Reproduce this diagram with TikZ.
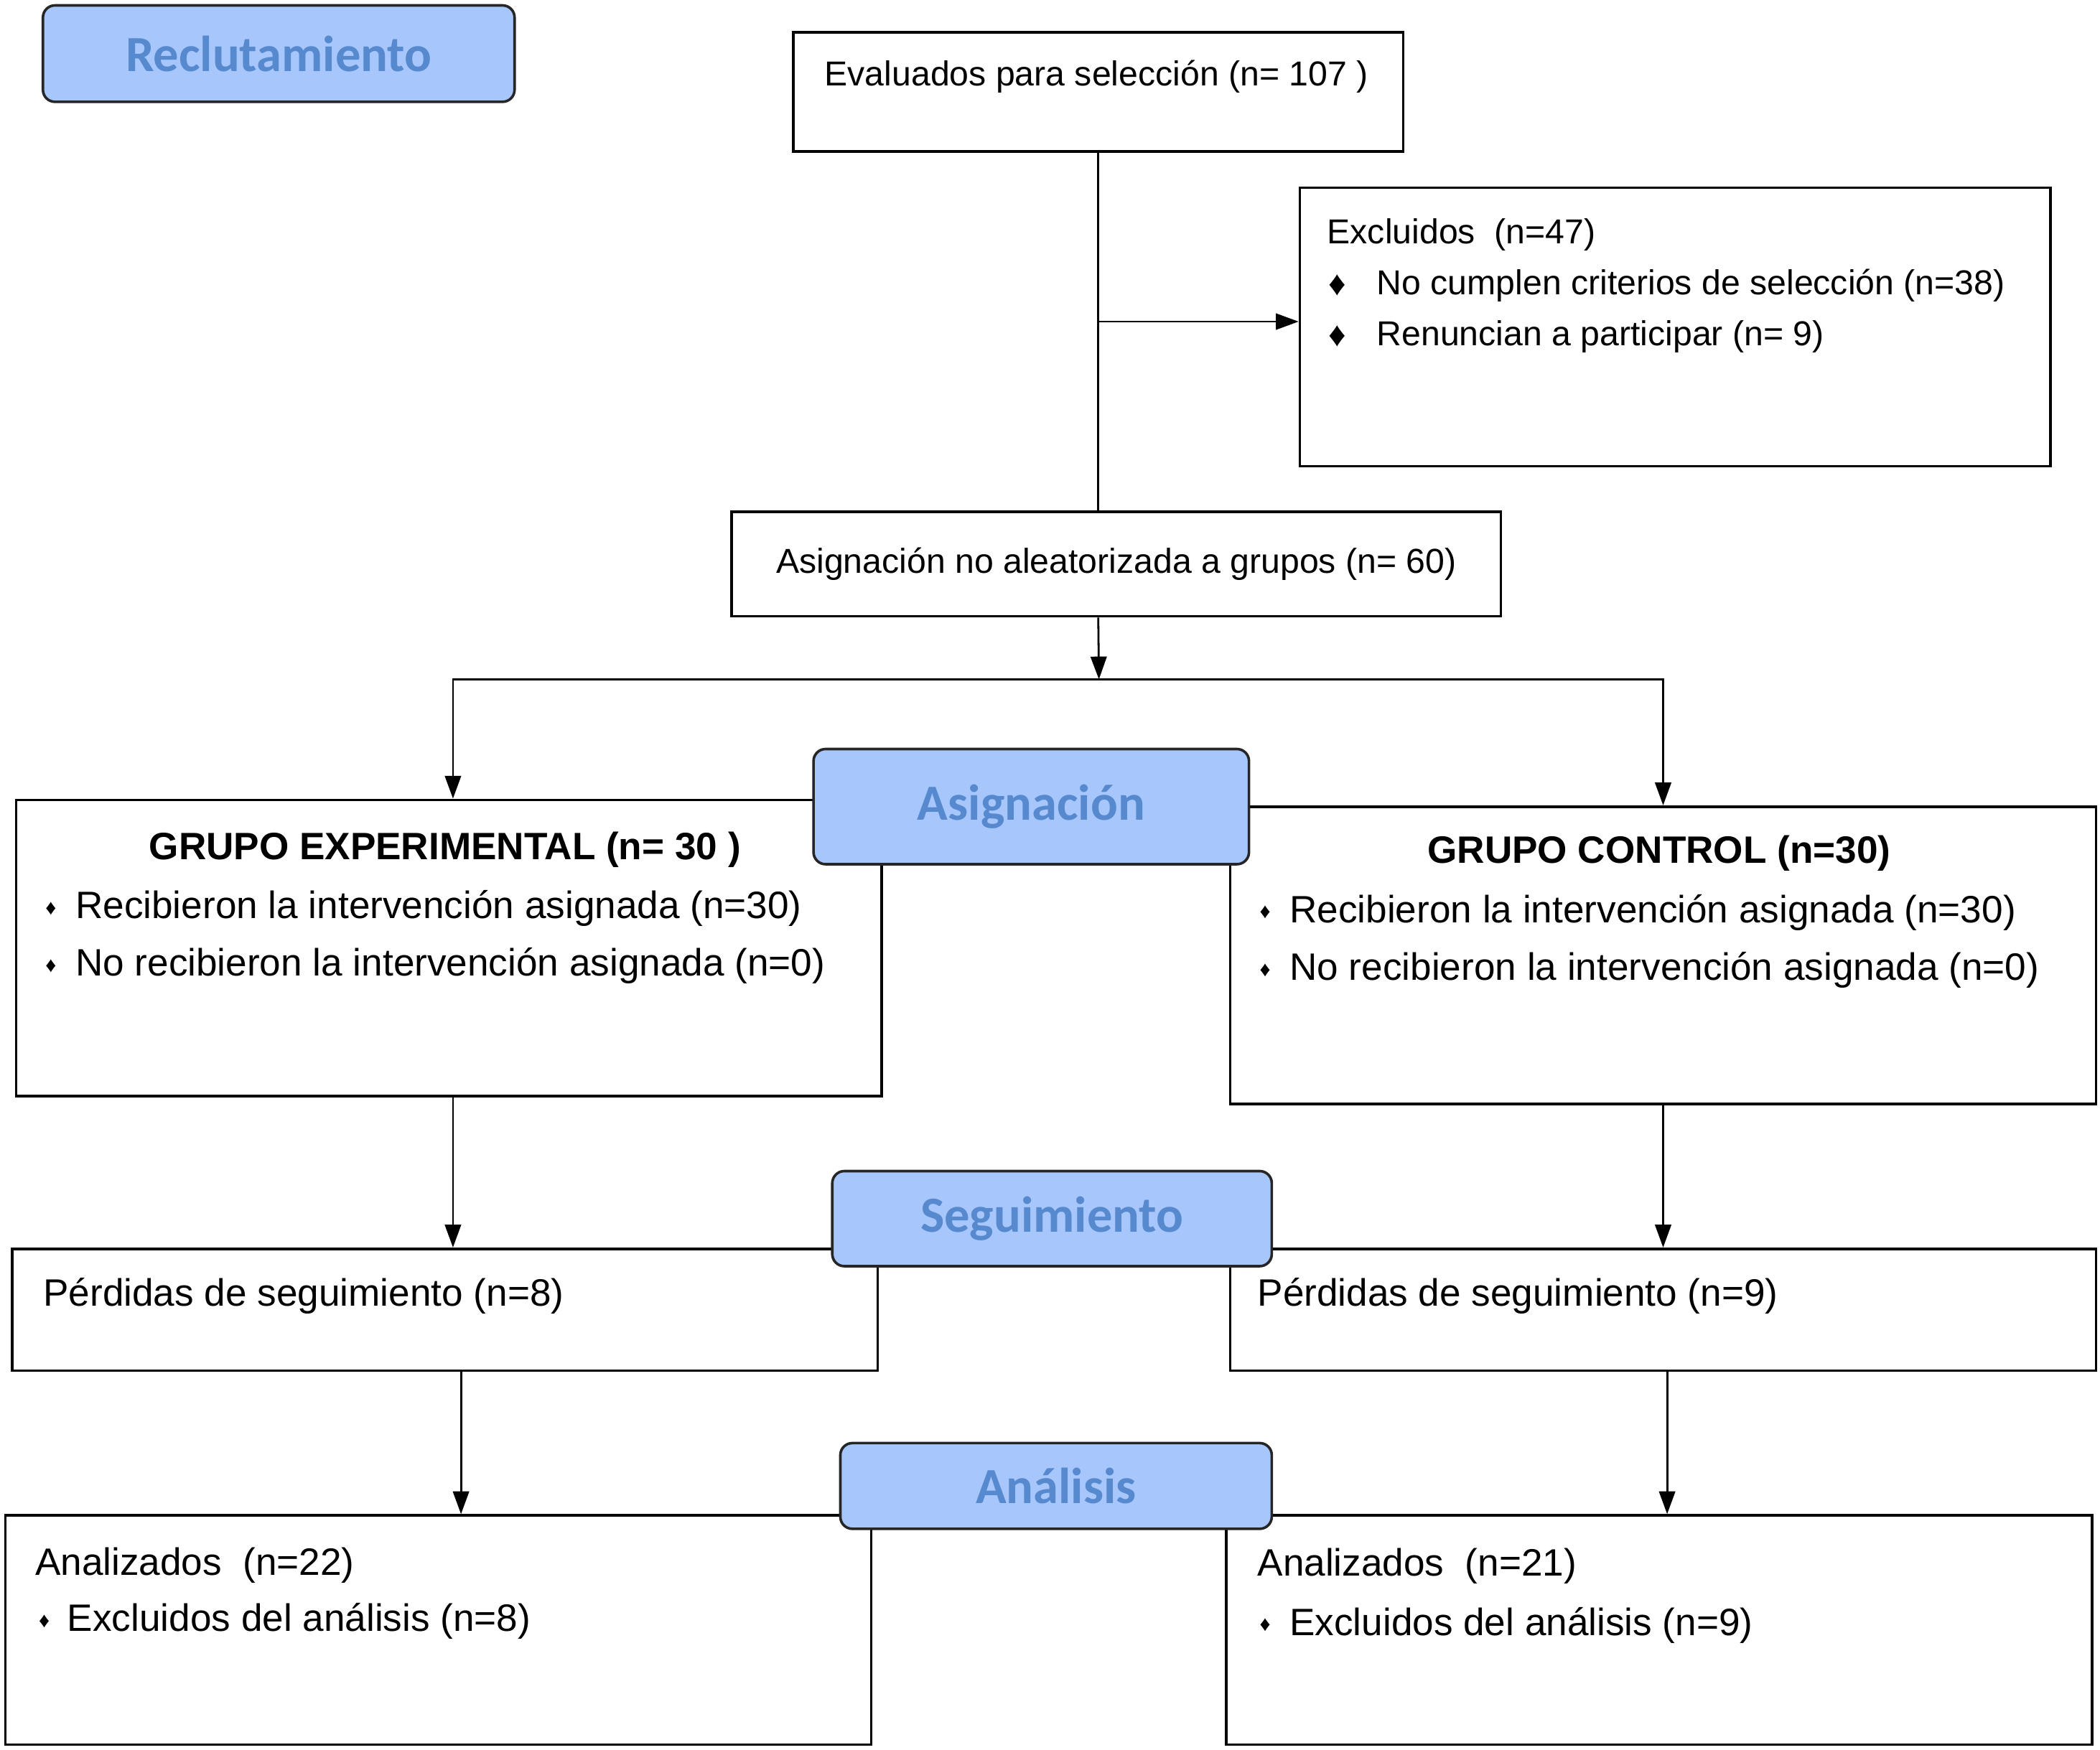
\documentclass[tikz,border=0pt]{standalone}
\usepackage{fontspec}
\setmainfont{Liberation Sans}
\newfontfamily\phasefont{Carlito}
\usetikzlibrary{arrows.meta,fit,positioning}

\definecolor{phasefill}{RGB}{166,198,252}
\definecolor{phasetext}{RGB}{86,137,206}

\tikzset{
    box/.style={draw, line width=1.1pt, inner sep=0pt, fill=white},
    phase/.style={draw=black!85, line width=1.1pt, rounded corners=0.18cm, fill=phasefill, inner sep=0pt,
        text=phasetext, font=\phasefont\bfseries\fontsize{21.5}{24}\selectfont},
    small/.style={font=\fontsize{14.7}{17}\selectfont, inner sep=0pt},
    big/.style={font=\fontsize{16.2}{19}\selectfont, inner sep=0pt},
    dot/.style={font=\fontsize{9}{10}\selectfont, inner sep=0pt},
    arr/.style={-{Triangle[length=0.34cm,width=0.24cm]}, line width=0.85pt},
    link/.style={line width=0.85pt},
}

\begin{document}
\begin{tikzpicture}[x=0.02cm, y=-0.02cm]
    \useasboundingbox (0,0) rectangle (1567,1306);

    % Recruitment boxes
    \node[phase, minimum width=7.04cm, minimum height=1.44cm] (reclu) at (208,40) {Reclutamiento};
    \node[box, fit={(592,24) (1047,113)}] (eval) {};
    \node[small, anchor=west] (evalT) at (615,57) {Evaluados para selección (n= 107 )};
    \node[box, fit={(970,140) (1530,348)}] (excl) {};
    \node[small, anchor=west] (exclT) at (990,175) {Excluidos\ \ (n=47)};
    \foreach \y/\t [count=\i] in {213/No cumplen criterios de selección (n=38), 251/Renuncian a participar (n= 9)}{
        \node[small] (exclB\i) at (998,\y) {♦};
        \node[small, anchor=west] (exclL\i) at (1027,\y) {\t};
    }
    \node[box, small, minimum width=11.48cm, minimum height=1.56cm] (asig) at (833,421) {Asignación no aleatorizada a grupos (n= 60)};
    \coordinate (split) at (820,507);

    % Group boxes
    \node[box, fit={(12,597) (658,818)}] (gexp) {};
    \node[big, font=\fontsize{16.2}{19}\selectfont\bfseries] (gexpT) at (332,634) {GRUPO EXPERIMENTAL (n= 30 )};
    \node[box, fit={(918,602) (1564,824)}] (gctl) {};
    \node[big, font=\fontsize{16.2}{19}\selectfont\bfseries] (gctlT) at (1238,637) {GRUPO CONTROL (n=30)};
    \foreach \y/\t [count=\i] in {678/Recibieron la intervención asignada (n=30), 721/No recibieron la intervención asignada (n=0)}{
        \node[dot] (gexpB\i) at (38,\y) {♦};
        \node[big, anchor=west] (gexpL\i) at (56,\y) {\t};
        \node[dot] (gctlB\i) at (944,\y+3) {♦};
        \node[big, anchor=west] (gctlL\i) at (962,\y+3) {\t};
    }

    % Follow-up and analysis boxes
    \node[box, fit={(9,932) (655,1023)}] (perdE) {};
    \node[big, anchor=west] (perdET) at (32,967) {Pérdidas de seguimiento (n=8)};
    \node[box, fit={(918,932) (1564,1023)}] (perdC) {};
    \node[big, anchor=west] (perdCT) at (938,967) {Pérdidas de seguimiento (n=9)};
    \node[box, fit={(4,1131) (650,1302)}] (analE) {};
    \node[big, anchor=west] (analET) at (26,1168) {Analizados\ \ (n=22)};
    \node[dot] (analEB) at (33,1210) {♦};
    \node[big, anchor=west] (analEL) at (50,1210) {Excluidos del análisis (n=8)};
    \node[box, fit={(915,1131) (1561,1302)}] (analC) {};
    \node[big, anchor=west] (analCT) at (938,1169) {Analizados\ \ (n=21)};
    \node[dot] (analCB) at (944,1213) {♦};
    \node[big, anchor=west] (analCL) at (962,1213) {Excluidos del análisis (n=9)};

    % Phase labels on top
    \node[phase, minimum width=6.5cm, minimum height=1.72cm] (asigP) at (769.5,602) {Asignación};
    \node[phase, minimum width=6.56cm, minimum height=1.42cm] (segP) at (785,909.5) {Seguimiento};
    \node[phase, minimum width=6.44cm, minimum height=1.28cm] (anaP) at (788,1109) {Análisis};

    % Connectors
    \draw[link] (eval.south) -- (eval.south |- asig.north);
    \draw[arr] ([yshift=0.08cm]eval.south |- excl.west) -- ([yshift=0.08cm]excl.west);
    \draw[arr] (eval.south |- asig.south) -- (split);
    \draw[arr] (split) -| ([xshift=0.06cm]gexp.north);
    \draw[arr] (split) -| (gctl.north);
    \draw[arr] ([xshift=0.06cm]gexp.south) -- ([xshift=0.06cm]gexp.south |- perdE.north);
    \draw[arr] (gctl.south) -- (gctl.south |- perdC.north);
    \draw[arr] ([xshift=0.24cm]perdE.south) -- ([xshift=0.24cm]perdE.south |- analE.north);
    \draw[arr] ([xshift=0.06cm]perdC.south) -- ([xshift=0.06cm]perdC.south |- analC.north);
\end{tikzpicture}
\end{document}
